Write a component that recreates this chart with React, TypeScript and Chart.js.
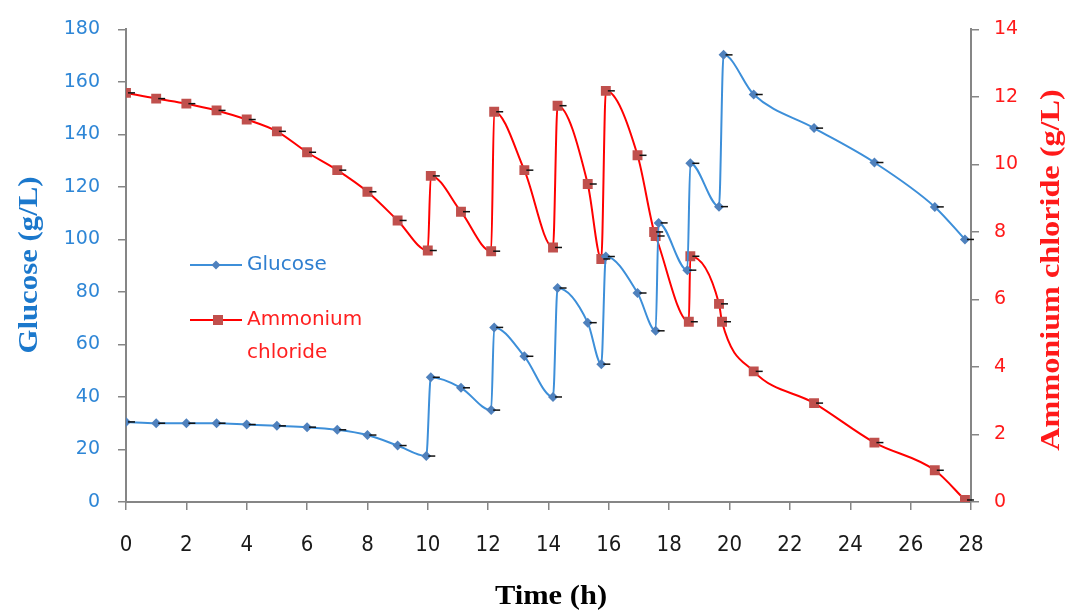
import React, { useEffect, useRef } from "react";
import { Chart, registerables } from "chart.js";

Chart.register(...registerables);

const glucoseTime = [0, 1, 2, 3, 4, 5, 6, 7, 8, 9, 9.95, 10.1, 11.1, 12.1, 12.2, 13.2, 14.15, 14.3, 15.3, 15.75, 15.9, 16.95, 17.55, 17.65, 18.6, 18.7, 19.65, 19.8, 20.8, 22.8, 24.8, 26.8, 27.8];
const glucoseValues = [30.5, 30, 30, 30, 29.5, 29, 28.5, 27.5, 25.5, 21.5, 17.5, 47.5, 43.5, 35, 66.5, 55.5, 40, 81.5, 68.3, 52.5, 93.5, 79.6, 65.2, 106.3, 88.3, 129, 112.5, 170.3, 155.2, 142.4, 129.3, 112.4, 100];

const ammoniumTime = [0, 1, 2, 3, 4, 5, 6, 7, 8, 9, 10, 10.1, 11.1, 12.1, 12.2, 13.2, 14.15, 14.3, 15.3, 15.75, 15.9, 16.95, 17.5, 17.55, 18.65, 18.7, 19.65, 19.75, 20.8, 22.8, 24.8, 26.8, 27.8];
const ammoniumValues = [12.12, 11.95, 11.8, 11.6, 11.33, 10.98, 10.36, 9.83, 9.19, 8.34, 7.45, 9.66, 8.6, 7.43, 11.56, 9.83, 7.54, 11.74, 9.42, 7.2, 12.18, 10.27, 8.0, 7.88, 5.34, 7.28, 5.87, 5.34, 3.87, 2.93, 1.76, 0.94, 0.06];

const xTitle = "Time (h)";
const yTitle = "Glucose (g/L)";
const y1Title = "Ammonium chloride (g/L)";
const glucoseLabel = "Glucose";
const ammoniumLabel = ["Ammonium", "chloride"];

const BLUE_LINE = "#3d8fd9";
const BLUE_MARK = "#4f81bd";
const RED_LINE = "#ff0000";
const RED_MARK = "#c0504d";
const AXIS = "#868686";

const dashPlugin = {
  id: "dashes",
  afterDatasetsDraw(chart: any) {
    const ctx = chart.ctx;
    ctx.save();
    ctx.strokeStyle = "#111";
    ctx.lineWidth = 1.5;
    chart.data.datasets.forEach((_: any, i: number) => {
      const meta = chart.getDatasetMeta(i);
      meta.data.forEach((p: any) => {
        ctx.beginPath();
        ctx.moveTo(p.x + 2, p.y);
        ctx.lineTo(p.x + 9, p.y);
        ctx.stroke();
      });
    });
    ctx.restore();
  },
};

const overlayPlugin = {
  id: "overlay",
  afterDraw(chart: any) {
    const ctx = chart.ctx;
    ctx.save();
    // axis titles
    ctx.font = "bold 28px 'Liberation Serif', serif";
    ctx.textAlign = "center";
    ctx.textBaseline = "middle";
    ctx.fillStyle = "#1b78cc";
    ctx.save();
    ctx.translate(30, 265);
    ctx.rotate(-Math.PI / 2);
    ctx.scale(1.1, 1);
    ctx.fillText(yTitle, 0, 0);
    ctx.restore();
    ctx.fillStyle = "#ff1a1a";
    ctx.save();
    ctx.translate(1052, 270);
    ctx.rotate(-Math.PI / 2);
    ctx.scale(1.15, 1);
    ctx.fillText(y1Title, 0, 0);
    ctx.restore();
    ctx.fillStyle = "#000";
    ctx.save();
    ctx.translate(551, 597);
    ctx.scale(1.09, 1);
    ctx.fillText(xTitle, 0, 0);
    ctx.restore();

    // legend
    const drawEntry = (y: number, line: string, mark: string, style: string) => {
      ctx.strokeStyle = line;
      ctx.lineWidth = 2;
      ctx.beginPath();
      ctx.moveTo(190, y);
      ctx.lineTo(242, y);
      ctx.stroke();
      ctx.fillStyle = mark;
      ctx.beginPath();
      if (style === "diamond") {
        ctx.moveTo(216, y - 4.5);
        ctx.lineTo(220.5, y);
        ctx.lineTo(216, y + 4.5);
        ctx.lineTo(211.5, y);
        ctx.closePath();
        ctx.fill();
      } else {
        ctx.fillRect(213, y - 5, 10, 10);
      }
    };
    drawEntry(265, BLUE_LINE, BLUE_MARK, "diamond");
    drawEntry(320, RED_LINE, RED_MARK, "square");
    ctx.font = "20px 'DejaVu Sans', sans-serif";
    ctx.textAlign = "left";
    ctx.textBaseline = "middle";
    ctx.fillStyle = "#2f7fd0";
    ctx.fillText(glucoseLabel, 247, 265);
    ctx.fillStyle = "#ff2020";
    ctx.fillText(ammoniumLabel[0], 247, 320);
    ctx.fillText(ammoniumLabel[1], 247, 353);
    ctx.restore();
  },
};

export default function App() {
  const ref = useRef<HTMLCanvasElement | null>(null);
  useEffect(() => {
    if (!ref.current) return;
    const chart = new Chart(ref.current, {
      type: "line",
      data: {
        datasets: [
          {
            label: glucoseLabel,
            data: glucoseTime.map((t, i) => ({ x: t, y: glucoseValues[i] })),
            yAxisID: "y",
            borderColor: BLUE_LINE,
            backgroundColor: BLUE_MARK,
            borderWidth: 2,
            pointStyle: "rectRot",
            pointRadius: 5,
            pointBorderWidth: 0,
            pointBackgroundColor: BLUE_MARK,
            cubicInterpolationMode: "monotone",
          },
          {
            label: ammoniumLabel.join(" "),
            data: ammoniumTime.map((t, i) => ({ x: t, y: ammoniumValues[i] })),
            yAxisID: "y1",
            borderColor: RED_LINE,
            backgroundColor: RED_MARK,
            borderWidth: 2,
            pointStyle: "rect",
            pointRadius: 7,
            pointBorderWidth: 0,
            pointBackgroundColor: RED_MARK,
            cubicInterpolationMode: "monotone",
          },
        ],
      },
      options: {
        animation: false,
        responsive: false,
        layout: { padding: { top: 24, left: 0, right: 0, bottom: 0 } },
        plugins: { legend: { display: false }, tooltip: { enabled: false } },
        scales: {
          x: {
            type: "linear",
            min: 0,
            max: 28,
            ticks: {
              stepSize: 2,
              color: "#1a1a1a",
              font: { family: "'DejaVu Sans Condensed', 'DejaVu Sans'", size: 22 },
              padding: 22,
              maxRotation: 0,
            },
            grid: { drawOnChartArea: false, tickLength: 8, color: AXIS, lineWidth: 1.5 },
            border: { color: AXIS, width: 2 },
            afterFit: (s: any) => {
              s.height = 111;
            },
          },
          y: {
            position: "left",
            min: 0,
            max: 180,
            ticks: {
              stepSize: 20,
              color: "#2e86d6",
              font: { family: "'DejaVu Sans'", size: 19 },
              padding: 18,
            },
            grid: { drawOnChartArea: false, tickLength: 8, color: AXIS, lineWidth: 1.5 },
            border: { color: AXIS, width: 2 },
            afterFit: (s: any) => {
              s.width = 126;
            },
          },
          y1: {
            position: "right",
            min: 0,
            max: 14,
            ticks: {
              stepSize: 2,
              color: "#ff1a1a",
              font: { family: "'DejaVu Sans'", size: 19 },
              padding: 15,
            },
            grid: { drawOnChartArea: false, tickLength: 8, color: AXIS, lineWidth: 1.5 },
            border: { color: AXIS, width: 2 },
            afterFit: (s: any) => {
              s.width = 101;
            },
          },
        },
      },
      plugins: [dashPlugin, overlayPlugin],
    } as any);
    return () => chart.destroy();
  }, []);
  return (
    <div style={{ position: "absolute", left: 0, top: 0, width: 1072, height: 613, background: "#fff" }}>
      <canvas ref={ref} width={1072} height={613} />
    </div>
  );
}
